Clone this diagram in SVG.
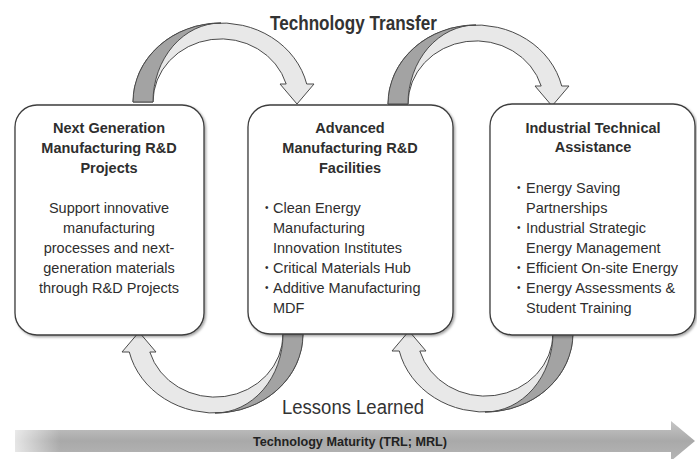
<svg xmlns="http://www.w3.org/2000/svg" width="697" height="459" viewBox="0 0 697 459">
<defs>
<style>
.box{fill:#fff;stroke:#3c3c3c;stroke-width:1.3;filter:url(#sh)}
.t{font-family:"Liberation Sans",Arial,sans-serif;font-size:14.5px;fill:#2e2e2e}
.c{text-anchor:middle}
.b{font-weight:bold}
.bu{font-family:"Liberation Sans",Arial,sans-serif;font-size:10px;fill:#2e2e2e}
.band{fill:#e8e8e8;stroke:#4a4a4a;stroke-width:1;stroke-linejoin:round}
.dark{fill:#a3a3a3;stroke:#4a4a4a;stroke-width:1;stroke-linejoin:round}
.lbl{font-family:"Liberation Sans",Arial,sans-serif;font-size:20px;fill:#333}
</style>
<filter id="sh" x="-10%" y="-10%" width="130%" height="130%">
<feDropShadow dx="1.5" dy="1.5" stdDeviation="1.2" flood-color="#000" flood-opacity="0.35"/>
</filter>
<linearGradient id="bg" x1="0" y1="0" x2="0" y2="1">
<stop offset="0" stop-color="#c6c6c6"/>
<stop offset="0.5" stop-color="#a9a9a9"/>
<stop offset="1" stop-color="#b6b6b6"/>
</linearGradient>
<linearGradient id="fade" x1="0" y1="0" x2="1" y2="0">
<stop offset="0" stop-color="#fff" stop-opacity="0.7"/>
<stop offset="1" stop-color="#fff" stop-opacity="0"/>
</linearGradient>
<g id="arc">
<path class="band" d="M133 102 A88 79 0 0 1 306.7 84 L314 84 L297 104 L280 84 L286.2 84 A68 63 0 0 0 153 102 Z"/>
<path class="dark" d="M133 102 A88 79 0 0 1 221 23 A68 79 0 0 0 153 102 Z"/>
</g>
</defs>
<rect width="697" height="459" fill="#fff"/>

<g id="connectors">
<use href="#arc"/>
<use href="#arc" transform="translate(255,2)"/>
<use href="#arc" transform="rotate(180 218 218)"/>
<use href="#arc" transform="translate(270,-1) rotate(180 218 218)"/>
</g>

<g id="labels">
<text class="lbl" x="270" y="30" font-weight="bold" textLength="167" lengthAdjust="spacingAndGlyphs">Technology Transfer</text>
<text class="lbl" x="282" y="414" font-size="19" textLength="142" lengthAdjust="spacingAndGlyphs">Lessons Learned</text>
</g>

<g id="node1">
<rect class="box" x="15" y="105" width="189" height="230" rx="22"/>
<text class="t c b" x="109" y="133">Next Generation</text>
<text class="t c b" x="109" y="153">Manufacturing R&amp;D</text>
<text class="t c b" x="109" y="173">Projects</text>
<text class="t c" x="109" y="213">Support innovative</text>
<text class="t c" x="109" y="233">manufacturing</text>
<text class="t c" x="109" y="253">processes and next-</text>
<text class="t c" x="109" y="273">generation materials</text>
<text class="t c" x="109" y="293">through R&amp;D Projects</text>
</g>

<g id="node2">
<rect class="box" x="248" y="105" width="205" height="229" rx="22"/>
<text class="t c b" x="350" y="133">Advanced</text>
<text class="t c b" x="350" y="153">Manufacturing R&amp;D</text>
<text class="t c b" x="350" y="173">Facilities</text>
<text class="bu" x="265" y="211">•</text>
<text class="t" x="273" y="213">Clean Energy</text>
<text class="t" x="273" y="233">Manufacturing</text>
<text class="t" x="273" y="253">Innovation Institutes</text>
<text class="bu" x="265" y="271">•</text>
<text class="t" x="273" y="273">Critical Materials Hub</text>
<text class="bu" x="265" y="291">•</text>
<text class="t" x="273" y="293">Additive Manufacturing</text>
<text class="t" x="273" y="313">MDF</text>
</g>

<g id="node3">
<rect class="box" x="490" y="104" width="205" height="231" rx="22"/>
<text class="t c b" x="593" y="133">Industrial Technical</text>
<text class="t c b" x="593" y="152">Assistance</text>
<text class="bu" x="517" y="191">•</text>
<text class="t" x="526" y="193">Energy Saving</text>
<text class="t" x="526" y="213">Partnerships</text>
<text class="bu" x="517" y="231">•</text>
<text class="t" x="526" y="233">Industrial Strategic</text>
<text class="t" x="526" y="253">Energy Management</text>
<text class="bu" x="517" y="271">•</text>
<text class="t" x="526" y="273">Efficient On-site Energy</text>
<text class="bu" x="517" y="291">•</text>
<text class="t" x="526" y="293">Energy Assessments &amp;</text>
<text class="t" x="526" y="313">Student Training</text>
</g>

<g id="maturity">
<path d="M15 430 H671 V421 L695 441 L671 461 V452 H15 Z" fill="url(#bg)"/>
<rect x="15" y="430" width="45" height="22" fill="url(#fade)"/>
<text x="350" y="446" text-anchor="middle" font-family="'Liberation Sans',Arial,sans-serif" font-size="12" font-weight="bold" fill="#222" textLength="194" lengthAdjust="spacingAndGlyphs">Technology Maturity (TRL; MRL)</text>
</g>
</svg>
